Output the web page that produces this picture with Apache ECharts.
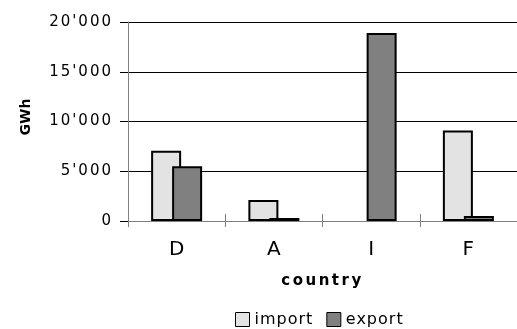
<!DOCTYPE html>
<html>
<head>
<meta charset="utf-8">
<script src="https://cdn.jsdelivr.net/npm/echarts@6/dist/echarts.min.js"></script>
<style>
  html, body { margin: 0; padding: 0; background: #fff; }
  #chart { width: 517px; height: 329px; }
</style>
</head>
<body>
<div id="chart"></div>
<script>
// ---- data ----
const categories = ['D', 'A', 'I', 'F'];
const importValues = [7050, 2100, 0, 9100];
const exportValues = [5500, 300, 18900, 500];
const seriesNames = ['import', 'export'];
const yMax = 20000;
const yStep = 5000;
const axisTitleX = 'country';
const axisTitleY = 'GWh';

// wide text look of the original (letter spacing via canvas)
(function () {
  const proto = CanvasRenderingContext2D.prototype;
  const d = Object.getOwnPropertyDescriptor(proto, 'font');
  if (!d || !('letterSpacing' in proto)) return;
  Object.defineProperty(proto, 'font', {
    configurable: true,
    enumerable: d.enumerable,
    get() { return d.get.call(this); },
    set(v) {
      d.set.call(this, v);
      const bold = /bold|[6-9]00/.test(v);
      let s = 0;
      if (/\b15px/.test(v)) s = bold ? 2.5 : 2;
      else if (/\b16px/.test(v)) s = 1;
      this.letterSpacing = s + 'px';
    }
  });
})();

function fmt(v) {
  return String(v).replace(/\B(?=(\d{3})+(?!\d))/g, "'");
}
// a zero-height bar draws nothing in the original
function barData(arr) {
  return arr.map(v => (v === 0 ? null : v));
}

const FONT = 'DejaVu Sans';
const chart = echarts.init(document.getElementById('chart'), null, { renderer: 'canvas' });
chart.setOption({
  animation: false,
  backgroundColor: '#fff',
  grid: { left: 128, right: -3, top: 22, bottom: 108, containLabel: false },
  legend: {
    data: seriesNames,
    left: 230,
    top: 306,
    icon: 'rect',
    itemWidth: 14,
    itemHeight: 14,
    itemGap: 13,
    itemStyle: { borderWidth: 1, borderColor: '#000' },
    textStyle: { fontFamily: FONT, fontSize: 16, color: '#000' }
  },
  xAxis: [
    {
      type: 'category',
      data: categories,
      position: 'bottom',
      axisLine: { lineStyle: { color: '#808080', width: 1 } },
      axisTick: { show: true, length: 6, lineStyle: { color: '#808080' } },
      axisLabel: { fontFamily: FONT, fontSize: 20, color: '#000', margin: 19 },
      name: axisTitleX,
      nameLocation: 'middle',
      nameGap: 51,
      nameTextStyle: { fontFamily: FONT, fontWeight: 'bold', fontSize: 15, color: '#000' }
    },
    {
      type: 'category',
      data: categories,
      position: 'bottom',
      axisLine: { show: false },
      axisTick: { show: true, inside: true, length: 7, lineStyle: { color: '#808080' } },
      axisLabel: { show: false }
    }
  ],
  yAxis: {
    type: 'value',
    min: 0,
    max: yMax,
    interval: yStep,
    axisLine: { show: true, lineStyle: { color: '#808080', width: 1 } },
    axisTick: { show: true, length: 8, lineStyle: { color: '#000' } },
    splitLine: { show: true, lineStyle: { color: '#000', width: 1 } },
    axisLabel: { fontFamily: FONT, fontSize: 15, color: '#000', margin: 15, formatter: fmt },
    name: axisTitleY,
    nameLocation: 'middle',
    nameGap: 95,
    nameTextStyle: { fontFamily: FONT, fontWeight: 'bold', fontSize: 14, color: '#000', padding: [0, 0, 0, 9] }
  },
  series: [
    {
      type: 'bar',
      name: seriesNames[0],
      data: barData(importValues),
      barWidth: 30,
      barGap: '-30%',
      itemStyle: { color: '#e3e3e3', borderColor: '#000', borderWidth: 2 }
    },
    {
      type: 'bar',
      name: seriesNames[1],
      data: barData(exportValues),
      barWidth: 30,
      barGap: '-30%',
      itemStyle: { color: '#808080', borderColor: '#000', borderWidth: 2 }
    }
  ]
});
</script>
</body>
</html>
